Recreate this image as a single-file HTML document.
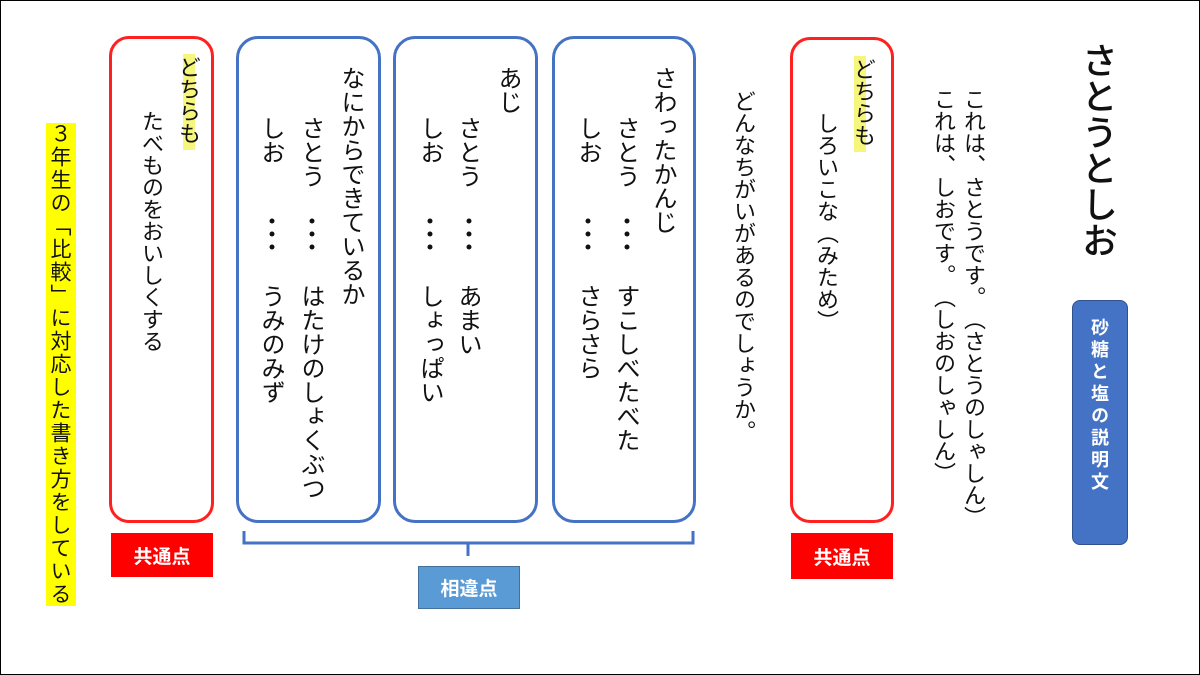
<!DOCTYPE html>
<html><head><meta charset="utf-8"><style>
html,body{margin:0;padding:0;}
body{width:1200px;height:675px;position:relative;background:#fff;overflow:hidden;font-family:"Liberation Sans","Noto Sans CJK JP",sans-serif;color:#111;}
.frame{position:absolute;left:0;top:0;width:1198px;height:673px;border:1px solid #000;}
.v{position:absolute;writing-mode:vertical-rl;font-size:22px;line-height:22px;white-space:pre;font-family:"Noto Sans CJK JP",sans-serif;}
.b24{font-size:24px;line-height:24px;}
.box{position:absolute;box-sizing:border-box;}
.red{border:3px solid #ff2020;border-radius:20px;}
.blue{border:3px solid #4472c4;border-radius:22px;}
.hlbar{position:absolute;background:#f6f57c;}
.lab{position:absolute;color:#fff;font-weight:bold;font-size:19px;display:flex;align-items:center;justify-content:center;font-family:"Noto Sans CJK JP",sans-serif;box-sizing:border-box;}
</style></head><body>
<div class="frame"></div>

<div class="v" style="left:1082px;top:42px;font-size:36px;line-height:36px;font-weight:500;">さとうとしお</div>

<div class="box" style="left:1072px;top:300px;width:56px;height:245px;background:#4472c4;border:1px solid #2f528f;border-radius:8px;"></div>
<div class="v" style="left:1090px;top:318px;font-size:18px;line-height:20px;letter-spacing:4px;color:#fff;font-weight:bold;">砂糖と塩の説明文</div>

<div class="v" style="left:964px;top:88px;">これは、さとうです。　（さとうのしゃしん）</div>
<div class="v" style="left:934px;top:88px;">これは、しおです。　（しおのしゃしん）</div>

<div class="box red" style="left:790px;top:37px;width:104px;height:486px;"></div>
<div class="hlbar" style="left:854px;top:56px;width:12px;height:96px;"></div>
<div class="v" style="left:854px;top:58px;">どちらも</div>
<div class="v" style="left:817px;top:112px;">しろいこな（みため）</div>
<div class="lab" style="left:791px;top:533px;width:102px;height:46px;background:#ff0000;">共通点</div>

<div class="v" style="left:734px;top:90px;">どんなちがいがあるのでしょうか。</div>

<div class="box blue" style="left:552px;top:36px;width:144px;height:487px;"></div>
<div class="box blue" style="left:393px;top:36px;width:145px;height:487px;"></div>
<div class="box blue" style="left:236px;top:36px;width:145px;height:487px;"></div>

<div class="v b24" style="left:653px;top:66px;">さわったかんじ</div>
<div class="v b24" style="left:616px;top:116px;">さとう　　　　すこしべたべた</div>
<div class="v b24" style="left:578px;top:116px;">しお　　　　　さらさら</div>

<div class="v b24" style="left:498px;top:66px;">あじ</div>
<div class="v b24" style="left:458px;top:116px;">さとう　　　　あまい</div>
<div class="v b24" style="left:420px;top:116px;">しお　　　　　しょっぱい</div>

<div class="v b24" style="left:341px;top:66px;">なにからできているか</div>
<div class="v b24" style="left:301px;top:116px;">さとう　　　　はたけのしょくぶつ</div>
<div class="v b24" style="left:261px;top:116px;">しお　　　　　うみのみず</div>

<svg style="position:absolute;left:0;top:0" width="1200" height="675">
<path d="M244 531 V543 H693 V531 M468 543 V556" fill="none" stroke="#4472c4" stroke-width="3"/>
<g fill="#111">
<circle cx="627" cy="221" r="2.5"/><circle cx="627" cy="234" r="2.5"/><circle cx="627" cy="247" r="2.5"/>
<circle cx="588" cy="221" r="2.5"/><circle cx="588" cy="234" r="2.5"/><circle cx="588" cy="247" r="2.5"/>
<circle cx="469" cy="221" r="2.5"/><circle cx="469" cy="234" r="2.5"/><circle cx="469" cy="247" r="2.5"/>
<circle cx="430" cy="221" r="2.5"/><circle cx="430" cy="234" r="2.5"/><circle cx="430" cy="247" r="2.5"/>
<circle cx="312" cy="221" r="2.5"/><circle cx="312" cy="234" r="2.5"/><circle cx="312" cy="247" r="2.5"/>
<circle cx="272" cy="221" r="2.5"/><circle cx="272" cy="234" r="2.5"/><circle cx="272" cy="247" r="2.5"/>
</g>
</svg>
<div class="lab" style="left:418px;top:566px;width:102px;height:43px;background:#5b9bd5;border:1px solid #41719c;">相違点</div>

<div class="box red" style="left:109px;top:36px;width:105px;height:487px;"></div>
<div class="hlbar" style="left:183px;top:54px;width:12px;height:96px;"></div>
<div class="v" style="left:179px;top:56px;">どちらも</div>
<div class="v" style="left:142px;top:110px;">たべものをおいしくする</div>
<div class="lab" style="left:111px;top:533px;width:102px;height:44px;background:#ff0000;">共通点</div>

<div class="v" style="left:46px;top:123px;width:30px;background:#ffff00;font-size:21px;line-height:30px;letter-spacing:2px;">３年生の「比較」に対応した書き方をしている</div>
</body></html>
